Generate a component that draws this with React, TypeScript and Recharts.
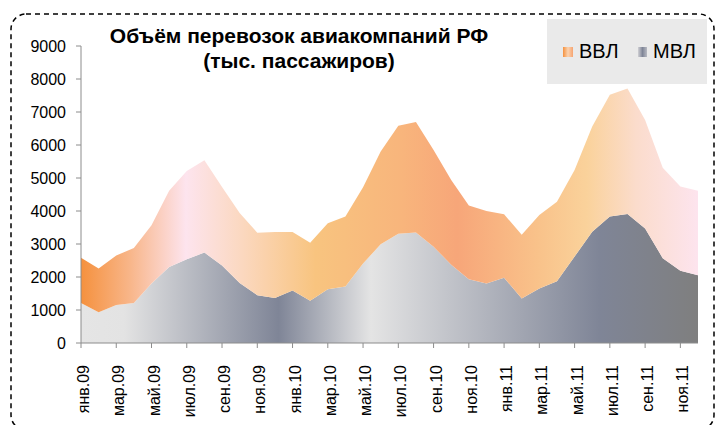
import { Area, AreaChart, XAxis, YAxis } from 'recharts'

const months = [
  'янв.09', 'фев.09', 'мар.09', 'апр.09', 'май.09', 'июн.09', 'июл.09', 'авг.09', 'сен.09', 'окт.09', 'ноя.09', 'дек.09',
  'янв.10', 'фев.10', 'мар.10', 'апр.10', 'май.10', 'июн.10', 'июл.10', 'авг.10', 'сен.10', 'окт.10', 'ноя.10', 'дек.10',
  'янв.11', 'фев.11', 'мар.11', 'апр.11', 'май.11', 'июн.11', 'июл.11', 'авг.11', 'сен.11', 'окт.11', 'ноя.11', 'дек.11',
]

// домашние перевозки (ВВЛ), тыс. пассажиров — стопка поверх МВЛ
const vvl = [
  1370, 1330, 1500, 1670, 1770, 2310, 2670, 2800, 2380, 2120, 1890, 2000,
  1770, 1760, 2000, 2120, 2310, 2810, 3270, 3350, 2930, 2570, 2240, 2200,
  1920, 1930, 2230, 2410, 2620, 3190, 3690, 3800, 3290, 2740, 2550, 2560,
]

// международные (МВЛ)
const mvl = [
  1210, 930, 1150, 1210, 1800, 2300, 2540, 2740, 2350, 1820, 1450, 1360,
  1590, 1280, 1630, 1710, 2410, 2990, 3310, 3350, 2920, 2370, 1930, 1800,
  1980, 1350, 1650, 1870, 2620, 3370, 3830, 3910, 3470, 2570, 2190, 2050,
]

const yTicks = [0, 1000, 2000, 3000, 4000, 5000, 6000, 7000, 8000, 9000]

const data = months.map((m, i) => ({ month: m, vvl: vvl[i], mvl: mvl[i] }))

const FONT = '"Liberation Sans", Arial, sans-serif'
const AXIS = '#8c8c8c'

function XTick(props: any) {
  const { x, y, payload } = props
  return (
    <text
      transform={`translate(${x + 8},${y + 15}) rotate(-90)`}
      textAnchor="end"
      fontSize={16}
      fontFamily={FONT}
      fill="#000"
    >
      {payload.value}
    </text>
  )
}

// легенда рисуется поверх графика, чтобы не отнимать место у области построения
function LegendBox() {
  return (
    <g transform="translate(547,19)">
      <defs>
        <linearGradient id="lg-vvl" x1="0" y1="0" x2="1" y2="0">
          <stop offset="0%" stopColor="#f5913e" />
          <stop offset="50%" stopColor="#fbd3b0" />
          <stop offset="100%" stopColor="#f6a470" />
        </linearGradient>
        <linearGradient id="lg-mvl" x1="0" y1="0" x2="1" y2="0">
          <stop offset="0%" stopColor="#d0d0d4" />
          <stop offset="50%" stopColor="#7f8597" />
          <stop offset="100%" stopColor="#b8bac2" />
        </linearGradient>
      </defs>
      <rect x={0} y={0} width={160} height={65} fill="#eaeaea" />
      <rect x={16} y={28} width={10} height={10} fill="url(#lg-vvl)" />
      <text x={32} y={39} fontSize={20} fontFamily={FONT} fill="#000">ВВЛ</text>
      <rect x={91} y={28} width={9} height={10} fill="url(#lg-mvl)" />
      <text x={106} y={39} fontSize={20} fontFamily={FONT} fill="#000">МВЛ</text>
    </g>
  )
}

export default function App() {
  return (
    <div style={{ position: 'absolute', left: 0, top: 0, width: 715, height: 425, background: '#fff' }}>
      <AreaChart
        width={715}
        height={425}
        data={data}
        margin={{ top: 46, right: 17, bottom: 0, left: 10 }}
      >
        <defs>
          <linearGradient id="fill-vvl" x1="0" y1="0" x2="1" y2="0">
            <stop offset="0%" stopColor="#f5913e" />
            <stop offset="8%" stopColor="#f8b68a" />
            <stop offset="17%" stopColor="#fde4ee" />
            <stop offset="26%" stopColor="#fbd8c0" />
            <stop offset="38%" stopColor="#f8c47f" />
            <stop offset="52%" stopColor="#f8b57c" />
            <stop offset="61%" stopColor="#f7a679" />
            <stop offset="74%" stopColor="#f9c28a" />
            <stop offset="82%" stopColor="#fad29b" />
            <stop offset="90%" stopColor="#fbdccc" />
            <stop offset="100%" stopColor="#fde4ee" />
          </linearGradient>
          <linearGradient id="fill-mvl" x1="0" y1="0" x2="1" y2="0">
            <stop offset="0%" stopColor="#e5e5e5" />
            <stop offset="7%" stopColor="#e3e3e3" />
            <stop offset="32%" stopColor="#7f8597" />
            <stop offset="47%" stopColor="#e4e4e4" />
            <stop offset="84%" stopColor="#7f8597" />
            <stop offset="100%" stopColor="#7f7f7f" />
          </linearGradient>
        </defs>
        <XAxis
          dataKey="month"
          interval={1}
          height={82}
          tick={<XTick />}
          tickSize={5}
          stroke={AXIS}
          tickLine={{ stroke: AXIS }}
        />
        <YAxis
          domain={[0, 9000]}
          ticks={yTicks}
          width={71}
          tickSize={5}
          tickMargin={10}
          stroke={AXIS}
          tick={{ fontSize: 16, fill: '#000', fontFamily: FONT }}
        />
        <Area
          type="linear"
          dataKey="mvl"
          name="МВЛ"
          stackId="1"
          stroke="none"
          fill="url(#fill-mvl)"
          fillOpacity={1}
          isAnimationActive={false}
        />
        <Area
          type="linear"
          dataKey="vvl"
          name="ВВЛ"
          stackId="1"
          stroke="none"
          fill="url(#fill-vvl)"
          fillOpacity={1}
          isAnimationActive={false}
        />
      </AreaChart>
      <svg
        width={715}
        height={425}
        style={{ position: 'absolute', left: 0, top: 0, pointerEvents: 'none' }}
      >
        <rect
          x={11}
          y={14}
          width={703}
          height={416}
          rx={15}
          fill="none"
          stroke="#000"
          strokeWidth={1.5}
          strokeDasharray="5 4"
        />
        <text x={299} y={43} textAnchor="middle" fontSize={21} fontWeight="bold" fontFamily={FONT} fill="#000">
          Объём перевозок авиакомпаний РФ
        </text>
        <text x={299} y={68} textAnchor="middle" fontSize={21} fontWeight="bold" fontFamily={FONT} fill="#000">
          (тыс. пассажиров)
        </text>
        <LegendBox />
      </svg>
    </div>
  )
}
